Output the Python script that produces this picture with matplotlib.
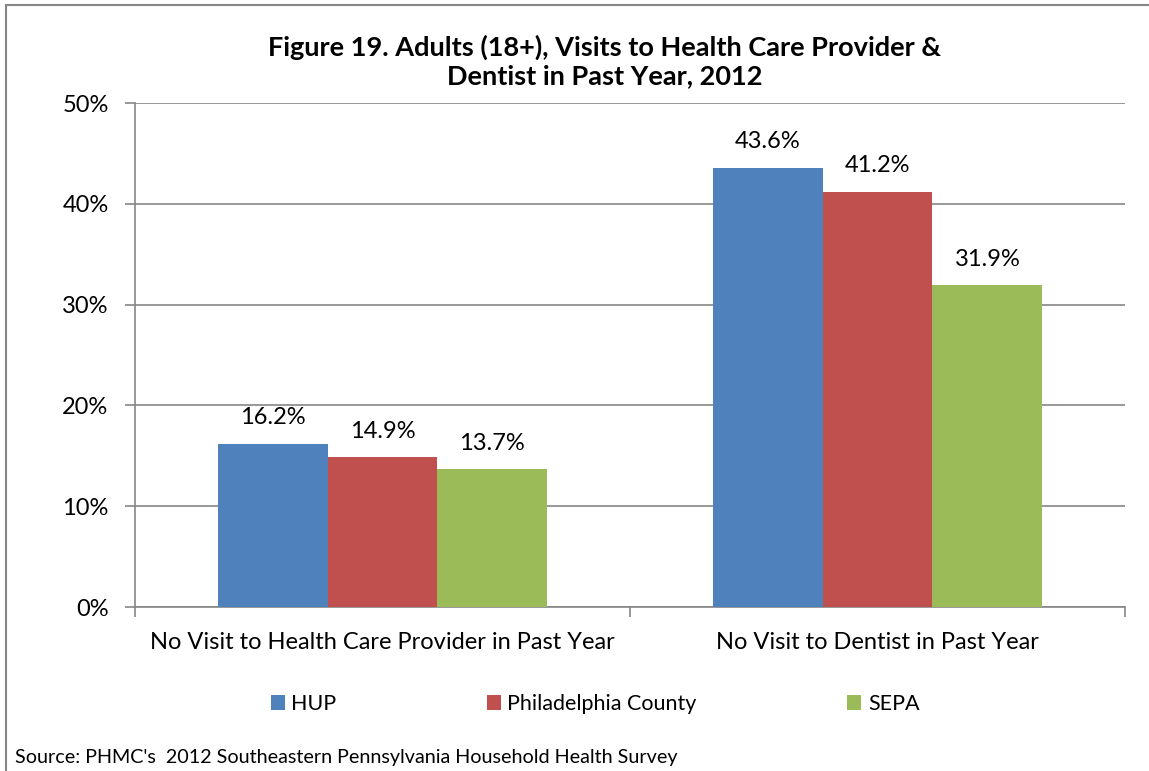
import numpy as np
import matplotlib.pyplot as plt
from matplotlib.patches import Rectangle

plt.rcParams['font.family'] = ['Lato', 'DejaVu Sans']

categories = ["No Visit to Health Care Provider in Past Year", "No Visit to Dentist in Past Year"]
series = ["HUP", "Philadelphia County", "SEPA"]
hup = [16.2, 43.6]
phila = [14.9, 41.2]
sepa = [13.7, 31.9]
colors = ["#4F81BD", "#C0504D", "#9BBB59"]

fig = plt.figure(figsize=(11.49, 7.71), dpi=100)
ax = fig.add_axes([135 / 1149, 1 - 607 / 771, 990 / 1149, 504 / 771])

x = np.arange(len(categories))
w = 0.222
for i, (vals, col) in enumerate(zip([hup, phila, sepa], colors)):
    bars = ax.bar(x + (i - 1) * w, vals, w, color=col, label=series[i], zorder=3)
    for b, v in zip(bars, vals):
        ax.annotate(f"{v:.1f}%", (b.get_x() + b.get_width() / 2, v), xytext=(0, 11),
                    textcoords="offset points", ha="center", va="bottom", fontsize=17)

ax.set_xlim(-0.5, 1.5)
ax.set_ylim(0, 50)
ax.set_yticks(np.arange(0, 51, 10))
ax.set_yticklabels([f"{t}%" for t in range(0, 51, 10)], fontsize=17)
ax.yaxis.grid(True, color="#868686", linewidth=1.2, zorder=0)
ax.set_xticks([-0.5, 0.5, 1.5])
ax.set_xticklabels([])
ax.set_xticks(x, minor=True)
ax.set_xticklabels(categories, minor=True, fontsize=17)
ax.tick_params(axis="x", which="minor", length=0, pad=18)
ax.tick_params(axis="x", which="major", length=7, color="#868686", width=1.2)
ax.tick_params(axis="y", length=7, color="#868686", width=1.2, pad=12)
for s in ["top", "right"]:
    ax.spines[s].set_visible(False)
for s in ["left", "bottom"]:
    ax.spines[s].set_color("#868686")
    ax.spines[s].set_linewidth(1.2)

fig.text(605 / 1149, 1 - 61 / 771, "Figure 19. Adults (18+), Visits to Health Care Provider &\nDentist in Past Year, 2012",
         ha="center", va="center", fontsize=19.5, fontweight="bold", linespacing=1.2)

ax.legend(loc="center", bbox_to_anchor=((595 - 135) / 990, (1 - 704 / 771 - (1 - 607 / 771)) / (504 / 771)),
          ncol=3, frameon=False, fontsize=15.5, handlelength=0.65, handleheight=0.65,
          columnspacing=7.0, handletextpad=0.3)

fig.text(15 / 1149, 1 - 757 / 771, "Source: PHMC's  2012 Southeastern Pennsylvania Household Health Survey",
         ha="left", va="center", fontsize=14.2)

fig.patches.append(Rectangle((6 / 1149, -0.05), 1.2, 1 - 5 / 771 + 0.05, transform=fig.transFigure,
                             fill=False, edgecolor="#868686", linewidth=1.5))

fig.savefig("out.png", dpi=100)
